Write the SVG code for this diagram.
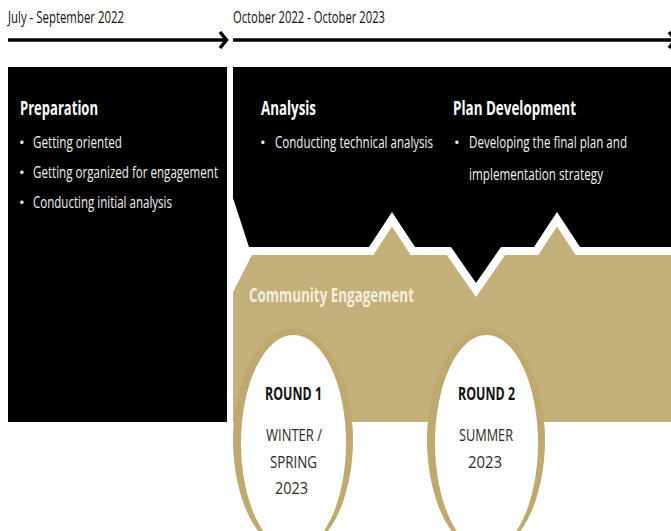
<svg xmlns="http://www.w3.org/2000/svg" width="671" height="531" viewBox="0 0 671 531">
<style>
.lbl{font-family:"Open Sans","Liberation Sans",sans-serif;font-size:16px;fill:#111}
.head{font-family:"Open Sans","Liberation Sans",sans-serif;font-size:20px;font-weight:bold;fill:#ffffff}
.item{font-family:"Open Sans","Liberation Sans",sans-serif;font-size:17px;fill:#f2f2f2}
.dot{font-family:"Open Sans","Liberation Sans",sans-serif;font-size:15px;fill:#f2f2f2}
.ce{font-family:"Open Sans","Liberation Sans",sans-serif;font-size:19.5px;font-weight:bold;fill:#f4eddb}
.rnd{font-family:"Open Sans","Liberation Sans",sans-serif;font-size:18.5px;font-weight:bold;fill:#111;text-anchor:middle}
.per{font-family:"Open Sans","Liberation Sans",sans-serif;font-size:17px;fill:#2a2a2a;text-anchor:middle}
.line{stroke:#000;stroke-width:3.5;fill:none}
.head-arrow{stroke:#000;stroke-width:3.5;fill:none;stroke-linejoin:miter;stroke-linecap:butt}
.ring{fill:#bfa96f}
.hole{fill:#ffffff}
</style>
<rect width="671" height="531" fill="#ffffff"/>

<g id="connectors">
  <line class="line" x1="8" y1="40" x2="225" y2="40"/>
  <polyline class="head-arrow" points="220,32 226.5,40 220,48"/>
  <line class="line" x1="233" y1="40" x2="676" y2="40"/>
  <polyline class="head-arrow" points="669,32 675.5,40 669,48"/>
</g>

<g id="timeline-labels">
  <text class="lbl" transform="translate(8 23) scale(0.72 1)" x="0" y="0" textLength="161.1" lengthAdjust="spacingAndGlyphs">July - September 2022</text>
  <text class="lbl" transform="translate(233 23) scale(0.72 1)" x="0" y="0" textLength="211.1" lengthAdjust="spacingAndGlyphs">October 2022 - October 2023</text>
</g>

<g id="community-engagement">
  <polygon fill="#c4b07b" points="252,255 373.3,255 392,226.6 410.7,255 446.8,255 476,297 505.2,255 538.3,255 557,226.6 575.7,255 671,255 671,422 233,422 233,292"/>
  <text class="ce" transform="translate(249 302) scale(0.69 1)" x="0" y="0" textLength="239.1" lengthAdjust="spacingAndGlyphs">Community Engagement</text>
</g>

<g id="analysis-plan">
  <polygon fill="#000000" points="233,67 671,67 671,247 580,247 557,212 534,247 501,247 476,283 451,247 415,247 392,212 369,247 249,247 233,198"/>
</g>

<g id="analysis">
  <text class="head" transform="translate(261 115) scale(0.66 1)" x="0" y="0" textLength="83.3" lengthAdjust="spacingAndGlyphs">Analysis</text>
  <text class="dot" x="260" y="148">•</text>
  <text class="item" transform="translate(275 148) scale(0.68 1)" x="0" y="0" textLength="232.4" lengthAdjust="spacingAndGlyphs">Conducting technical analysis</text>
</g>

<g id="plan-development">
  <text class="head" transform="translate(453 115) scale(0.67 1)" x="0" y="0" textLength="183.6" lengthAdjust="spacingAndGlyphs">Plan Development</text>
  <text class="dot" x="454" y="148">•</text>
  <text class="item" transform="translate(469 148) scale(0.68 1)" x="0" y="0" textLength="232.4" lengthAdjust="spacingAndGlyphs">Developing the final plan and</text>
  <text class="item" transform="translate(469 180) scale(0.69 1)" x="0" y="0" textLength="194.2" lengthAdjust="spacingAndGlyphs">implementation strategy</text>
</g>

<g id="preparation">
  <rect x="8" y="67" width="219" height="355" fill="#000000"/>
  <text class="head" transform="translate(20 115) scale(0.66 1)" x="0" y="0" textLength="118.2" lengthAdjust="spacingAndGlyphs">Preparation</text>
  <text class="dot" x="19" y="148">•</text>
  <text class="item" transform="translate(33 148) scale(0.69 1)" x="0" y="0" textLength="129" lengthAdjust="spacingAndGlyphs">Getting oriented</text>
  <text class="dot" x="19" y="178">•</text>
  <text class="item" transform="translate(33 178) scale(0.68 1)" x="0" y="0" textLength="272.1" lengthAdjust="spacingAndGlyphs">Getting organized for engagement</text>
  <text class="dot" x="19" y="208">•</text>
  <text class="item" transform="translate(33 208) scale(0.68 1)" x="0" y="0" textLength="204.4" lengthAdjust="spacingAndGlyphs">Conducting initial analysis</text>
</g>

<g id="round-1">
  <ellipse class="ring" cx="293" cy="440" rx="60" ry="112"/>
  <ellipse class="hole" cx="293.5" cy="443" rx="52.5" ry="108"/>
  <text class="rnd" transform="translate(293.5 400) scale(0.67 1)" x="0" y="0" textLength="85.1" lengthAdjust="spacingAndGlyphs">ROUND 1</text>
  <text class="per" transform="translate(294 441) scale(0.77 1)" x="0" y="0" textLength="72.7" lengthAdjust="spacingAndGlyphs">WINTER /</text>
  <text class="per" transform="translate(293.5 468) scale(0.79 1)" x="0" y="0" textLength="59.5" lengthAdjust="spacingAndGlyphs">SPRING</text>
  <text class="per" transform="translate(291.5 494) scale(0.85 1)" x="0" y="0" textLength="38.8" lengthAdjust="spacingAndGlyphs">2023</text>
</g>

<g id="round-2">
  <ellipse class="ring" cx="486" cy="440" rx="59" ry="112"/>
  <ellipse class="hole" cx="486.5" cy="443" rx="51.5" ry="108"/>
  <text class="rnd" transform="translate(486.5 400) scale(0.67 1)" x="0" y="0" textLength="85.1" lengthAdjust="spacingAndGlyphs">ROUND 2</text>
  <text class="per" transform="translate(486 441) scale(0.74 1)" x="0" y="0" textLength="73" lengthAdjust="spacingAndGlyphs">SUMMER</text>
  <text class="per" transform="translate(485 468) scale(0.87 1)" x="0" y="0" textLength="39.1" lengthAdjust="spacingAndGlyphs">2023</text>
</g>
</svg>
